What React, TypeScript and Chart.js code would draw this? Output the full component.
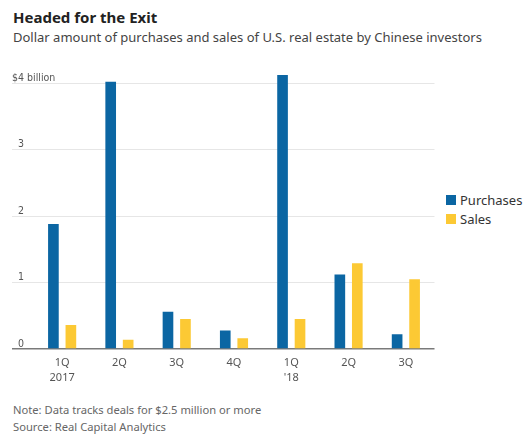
import { useEffect, useRef } from 'react';
import { Chart, type ChartConfiguration, type Plugin, registerables } from 'chart.js';

Chart.register(...registerables);

const categories: (string | string[])[] = [['1Q', '2017'], '2Q', '3Q', '4Q', ['1Q', "'18"], '2Q', '3Q'];
const purchases = [1.88, 4.02, 0.56, 0.28, 4.12, 1.12, 0.22];
const sales = [0.36, 0.14, 0.45, 0.16, 0.45, 1.29, 1.05];
const yTicks = [0, 1, 2, 3, 4];

const BLUE = '#0b66a3';
const YELLOW = '#fcc934';
const SANS = '"Noto Sans", "Open Sans", sans-serif';
const NARROW = '"DejaVu Sans Condensed", "Liberation Sans Narrow", sans-serif';

// y labels sit on top of their gridline, the "$" hangs left of the digits
const yLabels: Plugin<'bar'> = {
  id: 'yLabels',
  afterDraw(chart) {
    const { ctx } = chart;
    const y = chart.scales.y;
    ctx.save();
    ctx.font = `10.5px ${NARROW}`;
    ctx.fillStyle = '#555';
    ctx.textAlign = 'left';
    ctx.textBaseline = 'alphabetic';
    const x0 = y.left + 6;
    yTicks.forEach((v) => {
      const py = y.getPixelForValue(v) - 2.5;
      if (v === yTicks[yTicks.length - 1]) {
        const dollar = ctx.measureText('$').width;
        ctx.fillText(`$${v} billion`, x0 - dollar, py);
      } else {
        ctx.fillText(String(v), x0, py);
      }
    });
    ctx.restore();
  },
};

function ExitChart() {
  const canvasRef = useRef<HTMLCanvasElement | null>(null);
  const chartRef = useRef<Chart<'bar'> | null>(null);

  useEffect(() => {
    if (!canvasRef.current) return;
    const config: ChartConfiguration<'bar'> = {
      type: 'bar',
      data: {
        labels: categories,
        datasets: [
          {
            label: 'Purchases',
            data: purchases,
            backgroundColor: BLUE,
            categoryPercentage: 0.61,
            barPercentage: 0.61,
          },
          {
            label: 'Sales',
            data: sales,
            backgroundColor: YELLOW,
            categoryPercentage: 0.61,
            barPercentage: 0.61,
          },
        ],
      },
      options: {
        responsive: true,
        maintainAspectRatio: false,
        animation: false,
        layout: { padding: { top: 9.7, bottom: 0, left: 12, right: 5.5 } },
        scales: {
          x: {
            offset: true,
            afterFit: (scale) => {
              scale.height = 41;
            },
            grid: { display: false, drawTicks: false },
            border: { display: false },
            ticks: {
              padding: 7,
              color: '#555',
              font: { family: SANS, size: 11, lineHeight: 1.3 },
              maxRotation: 0,
              autoSkip: false,
            },
          },
          y: {
            min: 0,
            max: 4.2,
            afterBuildTicks: (scale) => {
              scale.ticks = yTicks.map((value) => ({ value }));
            },
            afterFit: (scale) => {
              scale.width = 21.5;
            },
            border: { display: false },
            grid: {
              drawTicks: true,
              tickLength: 21.5,
              color: (c) => (c.tick && c.tick.value === 0 ? '#7a7a7a' : '#e6e6e6'),
              lineWidth: (c) => (c.tick && c.tick.value === 0 ? 1.5 : 1),
            },
            ticks: { display: false },
          },
        },
        plugins: {
          legend: { display: false },
          tooltip: { enabled: false },
        },
      },
      plugins: [yLabels],
    };

    if (!chartRef.current) chartRef.current = new Chart(canvasRef.current, config);

    return () => {
      chartRef.current?.destroy();
      chartRef.current = null;
    };
  }, []);

  return <canvas ref={canvasRef} />;
}

export default function App() {
  const legend = [
    { label: 'Purchases', color: BLUE },
    { label: 'Sales', color: YELLOW },
  ];
  return (
    <div
      style={{
        position: 'absolute',
        left: 0,
        top: 0,
        width: 530,
        height: 441,
        background: '#fff',
        fontFamily: SANS,
        overflow: 'hidden',
      }}
    >
      <div style={{ position: 'absolute', left: 13, top: 7, fontSize: 15, lineHeight: '20px', fontWeight: 700, color: '#222' }}>
        Headed for the Exit
      </div>
      <div style={{ position: 'absolute', left: 13, top: 27.7, fontSize: 13, lineHeight: '18px', color: '#444', whiteSpace: 'nowrap' }}>
        Dollar amount of purchases and sales of U.S. real estate by Chinese investors
      </div>
      <div style={{ position: 'absolute', left: 0, top: 60, width: 440, height: 330 }}>
        <ExitChart />
      </div>
      <div style={{ position: 'absolute', left: 446, top: 190 }}>
        {legend.map((l) => (
          <div key={l.label} style={{ display: 'flex', alignItems: 'center', height: 19, fontSize: 13, color: '#333' }}>
            <span style={{ width: 10, height: 10, background: l.color, marginRight: 4, display: 'inline-block' }} />
            {l.label}
          </div>
        ))}
      </div>
      <div style={{ position: 'absolute', left: 13, top: 401, fontSize: 11.2, lineHeight: '17px', color: '#666' }}>
        <div>Note: Data tracks deals for $2.5 million or more</div>
        <div>Source: Real Capital Analytics</div>
      </div>
    </div>
  );
}
